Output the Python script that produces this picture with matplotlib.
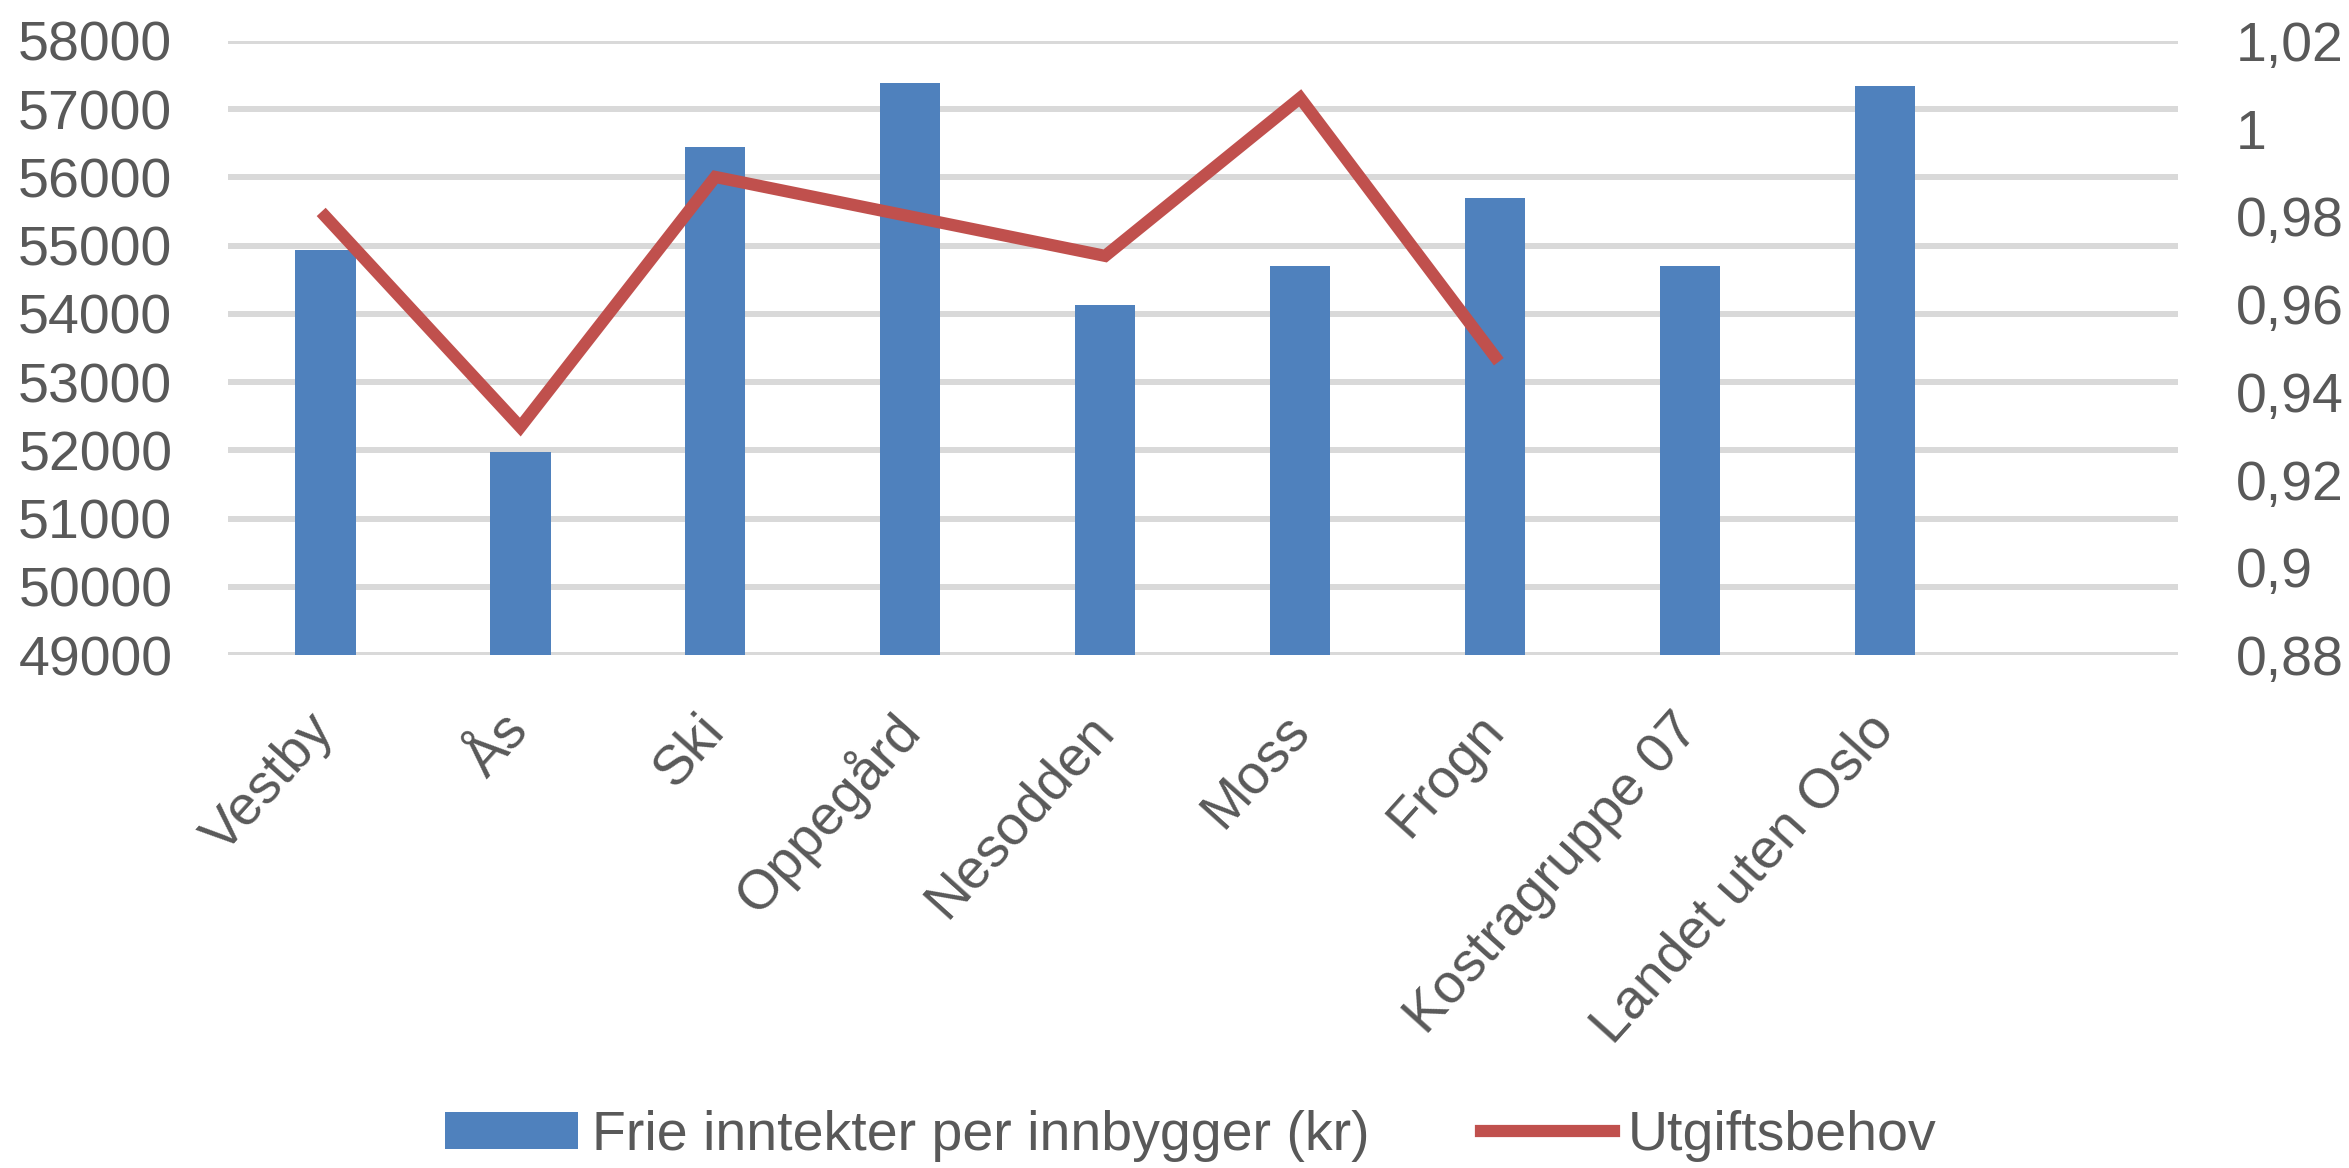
import numpy as np
import matplotlib
matplotlib.use('Agg')
import matplotlib.pyplot as plt
from matplotlib.patches import Patch
from matplotlib.lines import Line2D

plt.rcParams['font.family'] = ['Liberation Sans', 'DejaVu Sans']

kommuner = ['Vestby', 'Ås', 'Ski', 'Oppegård', 'Nesodden', 'Moss', 'Frogn',
            'Kostragruppe 07', 'Landet uten Oslo', '']
frie_inntekter = [54940, 51980, 56450, 57390, 54130, 54700, 55700, 54700, 57340, np.nan]
utgiftsbehov = [0.980, 0.932, 0.989, 0.980, 0.971, 1.007, 0.948, np.nan, np.nan, np.nan]

left_ticks = list(range(49000, 58001, 1000))
right_ticks = [0.88, 0.90, 0.92, 0.94, 0.96, 0.98, 1.00, 1.02]

blue = '#4F81BD'
red = '#C0504D'
grey_text = '#595959'
grid_col = '#D9D9D9'
fs = 40

fig = plt.figure(figsize=(23.49, 11.68), dpi=100)
ax = fig.add_axes([0.097, 0.439, 0.830, 0.526])
x = np.arange(len(kommuner))

ax.bar(x, frie_inntekter, width=0.31, color=blue, zorder=2)
ax.set_ylim(49000, 58000)
ax.set_xlim(-0.5, len(kommuner) - 0.5)
ax.set_yticks(left_ticks)
ax.set_yticklabels([str(v) for v in left_ticks])
ax.yaxis.grid(True, color=grid_col, linewidth=4.3, zorder=0)
ax.set_axisbelow(True)
ax.tick_params(axis='y', length=0, pad=40, labelsize=fs, labelcolor=grey_text)
ax.set_xticks(x)
ax.set_xticklabels(kommuner, rotation=48, ha='right', va='center', rotation_mode='anchor')
ax.tick_params(axis='x', length=0, pad=48, labelsize=fs, labelcolor=grey_text)
for s in ax.spines.values():
    s.set_visible(False)

ax2 = ax.twinx()
ax2.plot(x, utgiftsbehov, color=red, linewidth=8.8, solid_joinstyle='miter', zorder=3)
ax2.set_ylim(0.88, 1.02)
ax2.set_yticks(right_ticks)
ax2.set_yticklabels([('%g' % v).replace('.', ',') for v in right_ticks])
ax2.tick_params(axis='y', length=0, pad=42, labelsize=fs, labelcolor=grey_text)
for s in ax2.spines.values():
    s.set_visible(False)

handles = [Patch(facecolor=blue, edgecolor='none'),
           Line2D([0], [0], color=red, linewidth=8.8)]
leg = fig.legend(handles, ['Frie inntekter per innbygger (kr)', 'Utgiftsbehov'],
                 loc='center', bbox_to_anchor=(0.507, 0.027), ncol=2, frameon=False,
                 fontsize=fs, handlelength=2.4, handleheight=0.65,
                 handletextpad=0.25, columnspacing=2.0)
for t in leg.get_texts():
    t.set_color(grey_text)

fig.savefig('out.png', dpi=100, facecolor='white')
